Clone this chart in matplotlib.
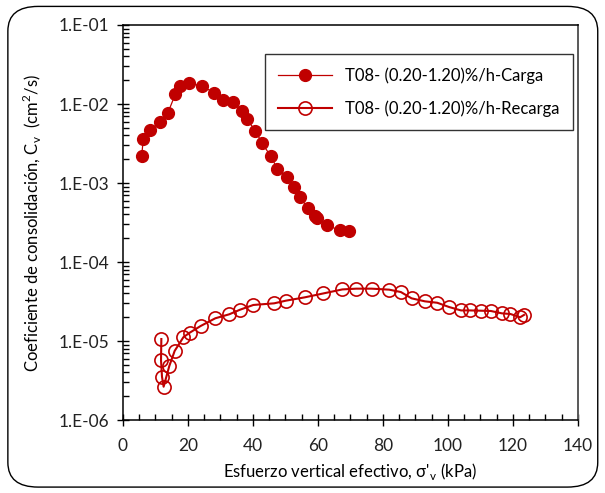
import matplotlib.pyplot as plt
from matplotlib.patches import FancyBboxPatch
from matplotlib.ticker import FixedLocator, LogLocator, NullFormatter

plt.rcParams['font.family'] = ['Lato', 'DejaVu Sans']

# Carga (loading) series
carga_x = [5.75, 6.25, 8.3, 11.3, 13.85, 16.1, 17.6, 20.4, 24.3, 28.0, 30.7,
           33.75, 36.5, 38.05, 40.7, 42.8, 45.4, 47.5, 50.4, 52.7, 54.6, 56.8,
           59.1, 59.7, 62.7, 66.7, 69.6]
carga_cv = [2.2e-3, 3.64e-3, 4.65e-3, 5.9e-3, 7.8e-3, 1.33e-2, 1.67e-2, 1.83e-2,
            1.69e-2, 1.39e-2, 1.11e-2, 1.07e-2, 8.15e-3, 6.5e-3, 4.6e-3, 3.2e-3,
            2.2e-3, 1.52e-3, 1.19e-3, 8.8e-4, 6.6e-4, 4.8e-4, 3.8e-4, 3.6e-4,
            2.9e-4, 2.54e-4, 2.49e-4]

# Recarga (reloading) series
recarga_x = [11.8, 11.7, 12.0, 12.5, 14.25, 15.9, 18.6, 20.6, 23.9, 28.4, 32.7,
             36.0, 40.1, 46.5, 50.1, 55.9, 61.6, 67.5, 71.8, 76.5, 81.9, 85.5,
             88.8, 92.9, 96.7, 100.4, 104.0, 106.7, 110.1, 113.2, 116.6, 119.2,
             122.2, 123.4]
recarga_cv = [1.06e-5, 5.7e-6, 3.54e-6, 2.64e-6, 4.83e-6, 7.5e-6, 1.12e-5,
              1.28e-5, 1.55e-5, 1.94e-5, 2.18e-5, 2.49e-5, 2.86e-5, 3.0e-5,
              3.24e-5, 3.57e-5, 4.0e-5, 4.5e-5, 4.6e-5, 4.6e-5, 4.47e-5, 4.17e-5,
              3.47e-5, 3.18e-5, 3.05e-5, 2.69e-5, 2.44e-5, 2.44e-5, 2.42e-5,
              2.40e-5, 2.24e-5, 2.2e-5, 2.0e-5, 2.14e-5]

y_ticks = [1e-6, 1e-5, 1e-4, 1e-3, 1e-2, 1e-1]
y_labels = ['1.E-06', '1.E-05', '1.E-04', '1.E-03', '1.E-02', '1.E-01']

red = '#c00000'

fig = plt.figure(figsize=(6.05, 4.93), dpi=100)
ax = fig.add_axes([0.2033, 0.148, 0.752, 0.8013])

# rounded chart-area border
fig.patches.append(FancyBboxPatch((0.013, 0.012), 0.975, 0.975,
                                  boxstyle='round,pad=0,rounding_size=0.05',
                                  transform=fig.transFigure, fill=False,
                                  edgecolor='black', linewidth=1.0))

ax.plot(carga_x, carga_cv, '-o', color=red, lw=0.9, ms=8.5,
        mfc=red, mec=red, label='T08- (0.20-1.20)%/h-Carga')
ax.plot(recarga_x, recarga_cv, '-o', color=red, lw=1.5, ms=9.5,
        mfc='none', mec=red, mew=1.2, label='T08- (0.20-1.20)%/h-Recarga')

ax.set_yscale('log')
ax.set_xlim(0, 140)
ax.set_ylim(1e-6, 1e-1)
ax.set_xticks(range(0, 141, 20))
ax.xaxis.set_minor_locator(FixedLocator(range(0, 141, 5)))
ax.set_yticks(y_ticks)
ax.set_yticklabels(y_labels)
ax.yaxis.set_minor_locator(LogLocator(base=10, subs=range(2, 10), numticks=20))
ax.yaxis.set_minor_formatter(NullFormatter())

ax.tick_params(which='major', direction='inout', length=8, width=1,
               labelsize=12.5, colors='black', labelcolor='#222222')
ax.tick_params(which='minor', direction='in', length=4, width=1)
ax.tick_params(axis='x', which='major', pad=9)
ax.tick_params(axis='y', which='major', pad=6)

for s in ['left', 'bottom', 'top']:
    ax.spines[s].set_linewidth(1.1)
ax.spines['right'].set_color('#595959')
ax.spines['right'].set_linewidth(1.4)

ax.set_xlabel("Esfuerzo vertical efectivo, σ'$_\\mathregular{v}$ (kPa)",
              fontsize=12, labelpad=5)
ax.set_ylabel('Coeficiente de consolidación, C$_\\mathregular{v}$  '
              '(cm$^\\mathregular{2}$/s)', fontsize=12, labelpad=10)

leg = ax.legend(loc='upper right', bbox_to_anchor=(0.989, 0.927), fontsize=12,
                frameon=True, fancybox=False, edgecolor='black',
                handlelength=3.2, borderpad=0.8, labelspacing=1.0,
                borderaxespad=0)
leg.get_frame().set_linewidth(1.0)

fig.savefig('out.png', dpi=100)
